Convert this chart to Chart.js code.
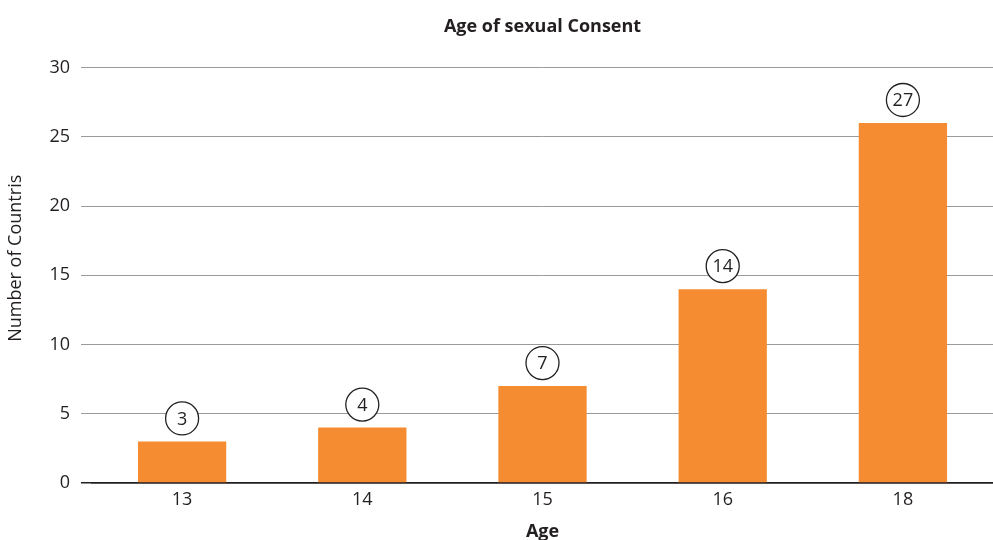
<!DOCTYPE html>
<html>
<head>
<meta charset="utf-8">
<script src="https://cdn.jsdelivr.net/npm/chart.js@4"></script>
<style>
html,body{margin:0;padding:0;background:#fff;}
#wrap{width:993px;height:540px;}
</style>
</head>
<body>
<div id="wrap"><canvas id="c" width="993" height="540"></canvas></div>
<script>
const categories = ["13", "14", "15", "16", "18"];
const barValues = [3, 4, 7, 14, 26];
const badgeLabels = ["3", "4", "7", "14", "27"];
const yTicks = [0, 5, 10, 15, 20, 25, 30];
const yTitle = "Number of Countris";

const FONT = "'Open Sans', sans-serif";
const TEXT = '#231f20';

const badgePlugin = {
  id: 'badges',
  afterDatasetsDraw(chart) {
    const ctx = chart.ctx;
    const meta = chart.getDatasetMeta(0);
    ctx.save();
    meta.data.forEach((bar, i) => {
      const cx = bar.x, cy = bar.y - 23;
      ctx.beginPath();
      ctx.arc(cx, cy, 16.5, 0, Math.PI * 2);
      ctx.fillStyle = '#fff';
      ctx.fill();
      ctx.lineWidth = 1.3;
      ctx.strokeStyle = TEXT;
      ctx.stroke();
      ctx.fillStyle = TEXT;
      ctx.font = "18px " + FONT;
      ctx.textAlign = 'center';
      ctx.textBaseline = 'middle';
      ctx.fillText(badgeLabels[i], cx, cy + 1);
    });
    // y axis title, placed as in the reference
    const ys = chart.scales.y;
    ctx.translate(16, (ys.top + ys.bottom) / 2 - 17);
    ctx.rotate(-Math.PI / 2);
    ctx.font = "18px " + FONT;
    ctx.textAlign = 'center';
    ctx.textBaseline = 'middle';
    ctx.fillText(yTitle, 0, 0);
    ctx.restore();
  }
};

new Chart(document.getElementById('c'), {
  type: 'bar',
  data: {
    labels: categories,
    datasets: [{
      data: barValues,
      backgroundColor: '#f68c31',
      borderWidth: 0,
      barPercentage: 0.49,
      categoryPercentage: 1.0
    }]
  },
  options: {
    responsive: false,
    animation: false,
    layout: { padding: { top: 16, right: 0, bottom: 0, left: 0 } },
    plugins: {
      legend: { display: false },
      tooltip: { enabled: false },
      title: {
        display: true,
        text: 'Age of sexual Consent',
        fullSize: false,
        color: TEXT,
        font: { family: FONT, size: 18, weight: 'bold' },
        padding: { top: 0, bottom: 30 }
      }
    },
    scales: {
      x: {
        grid: { display: true, color: 'rgba(0,0,0,0)', drawTicks: false },
        border: { display: true, color: '#231f20', width: 1.5 },
        ticks: { color: TEXT, font: { family: FONT, size: 18 }, padding: 6 },
        title: {
          display: true, text: 'Age', color: TEXT,
          font: { family: FONT, size: 18, weight: 'bold' },
          padding: { top: 4, bottom: -2.2 }
        }
      },
      y: {
        min: 0, max: 30,
        afterBuildTicks(scale) { scale.ticks = yTicks.map(v => ({ value: v })); },
        afterFit(scale) { scale.width = 92; },
        grid: {
          color: ctx => ctx.tick && ctx.tick.value === 0 ? '#231f20' : '#9a9a9a',
          lineWidth: ctx => ctx.tick && ctx.tick.value === 0 ? 1.5 : 1,
          tickLength: 11,
          drawTicks: true
        },
        border: { display: false },
        ticks: { color: TEXT, font: { family: FONT, size: 18 }, padding: 11 },
        title: { display: false }
      }
    }
  },
  plugins: [badgePlugin]
});
</script>
</body>
</html>
